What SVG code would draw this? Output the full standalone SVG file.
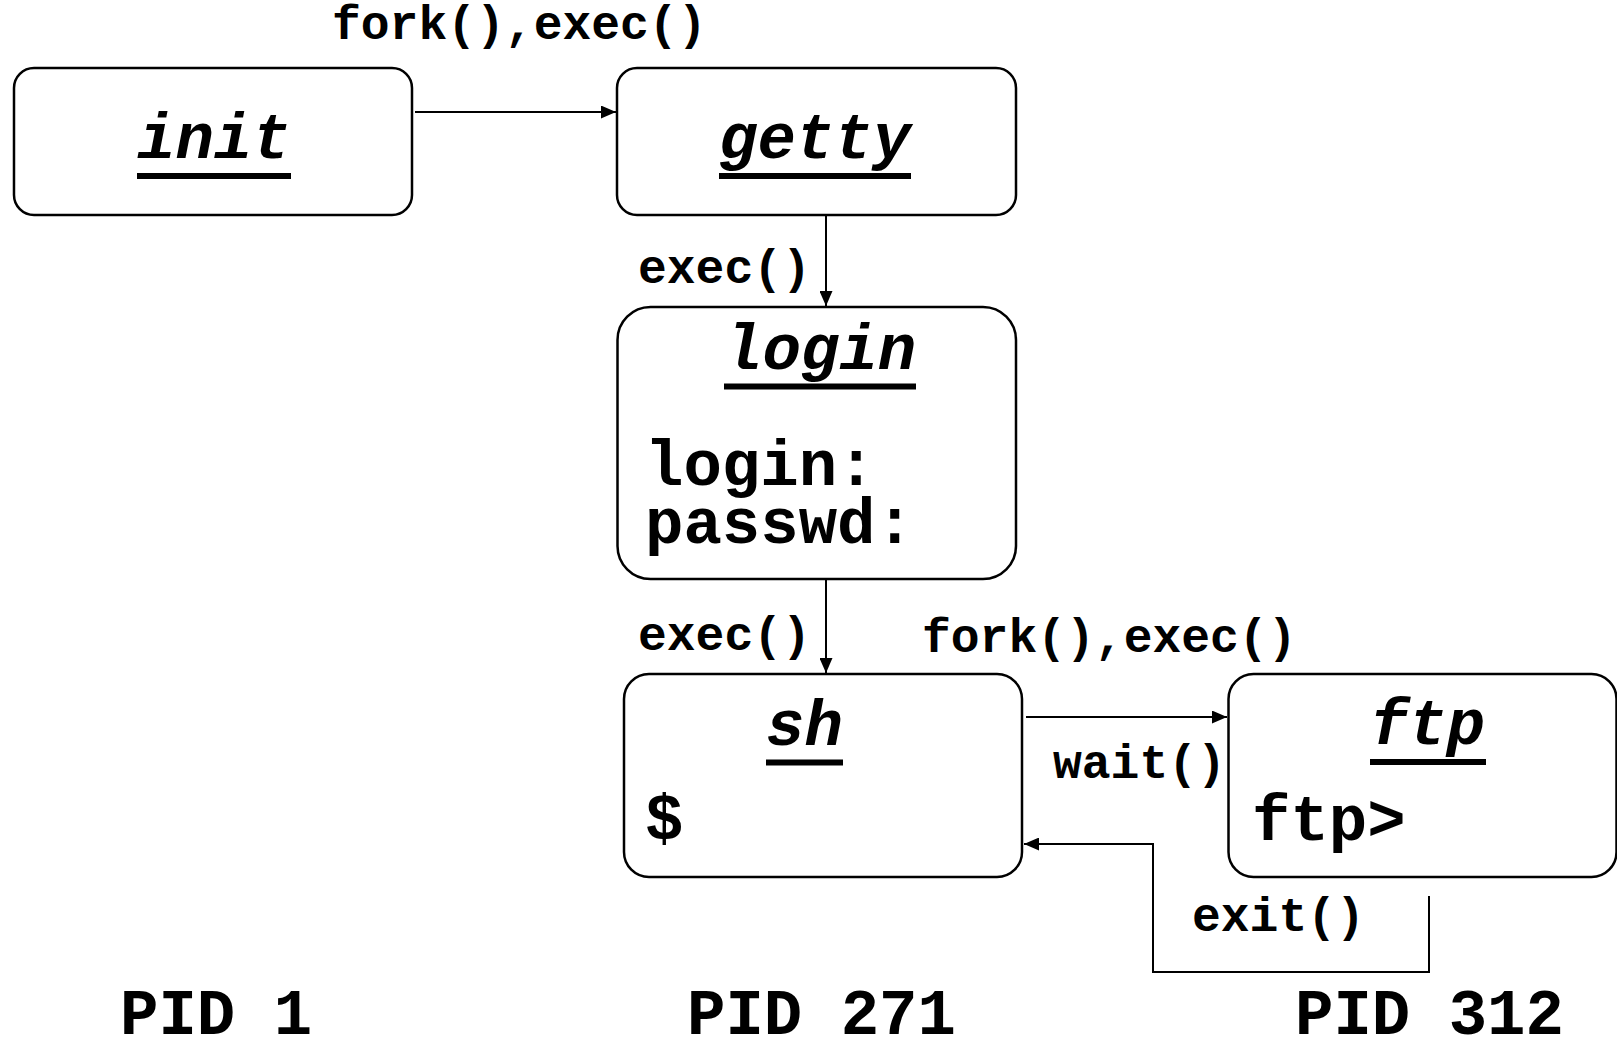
<svg xmlns="http://www.w3.org/2000/svg" width="1617" height="1043" viewBox="0 0 1617 1043">
<defs>
<style>
.box{fill:#fff;stroke:#000;stroke-width:2.5}
.conn{fill:none;stroke:#000;stroke-width:2}
.lbl{font-family:"Liberation Mono","Courier New",monospace;font-weight:bold;font-size:48px;fill:#000}
.big{font-family:"Liberation Mono","Courier New",monospace;font-weight:bold;font-size:64px;fill:#000}
.title{font-family:"Liberation Mono","Courier New",monospace;font-weight:bold;font-style:italic;font-size:64px;fill:#000}
.ul{fill:#000}
</style>
<marker id="arr" viewBox="0 0 15 13" refX="15" refY="6.5" markerWidth="15" markerHeight="13" markerUnits="userSpaceOnUse" orient="auto">
<path d="M0,0 L15,6.5 L0,13 z" fill="#000"/>
</marker>
</defs>
<rect width="1617" height="1043" fill="#fff"/>

<g id="init">
<rect class="box" x="14" y="68" width="398" height="147" rx="20"/>
<text class="title" x="137" y="158">init</text>
<rect class="ul" x="137" y="173" width="154" height="6"/>
</g>

<g id="getty">
<rect class="box" x="617" y="68" width="399" height="147" rx="20"/>
<text class="title" x="719" y="158">getty</text>
<rect class="ul" x="719" y="173" width="192" height="6"/>
</g>

<g id="login">
<rect class="box" x="617.5" y="307" width="398.5" height="272" rx="33"/>
<text class="title" x="724" y="369">login</text>
<rect class="ul" x="724" y="383.5" width="192" height="6"/>
<text class="big" x="645" y="485">login:</text>
<text class="big" x="645" y="543">passwd:</text>
</g>

<g id="sh">
<rect class="box" x="624" y="674" width="398" height="203" rx="25"/>
<text class="title" x="766" y="745">sh</text>
<rect class="ul" x="766" y="759.5" width="77" height="6"/>
<text class="big" x="645" y="839">$</text>
</g>

<g id="ftp">
<rect class="box" x="1228.5" y="674" width="388" height="203" rx="25"/>
<text class="title" x="1370" y="744">ftp</text>
<rect class="ul" x="1370" y="759" width="116" height="6"/>
<text class="big" x="1252" y="840">ftp&gt;</text>
</g>

<g id="connectors">
<line class="conn" x1="415" y1="112" x2="616" y2="112" marker-end="url(#arr)"/>
<line class="conn" x1="826" y1="216" x2="826" y2="306" marker-end="url(#arr)"/>
<line class="conn" x1="826" y1="579" x2="826" y2="673" marker-end="url(#arr)"/>
<line class="conn" x1="1026" y1="717" x2="1227" y2="717" marker-end="url(#arr)"/>
<polyline class="conn" points="1429,896 1429,972 1153,972 1153,844 1024,844" marker-end="url(#arr)"/>
<text class="lbl" x="332" y="39">fork(),exec()</text>
<text class="lbl" x="638" y="283">exec()</text>
<text class="lbl" x="638" y="650">exec()</text>
<text class="lbl" x="922" y="652">fork(),exec()</text>
<text class="lbl" x="1053" y="778">wait()</text>
<text class="lbl" x="1192" y="931">exit()</text>
</g>

<g id="pids">
<text class="big" x="120" y="1034">PID 1</text>
<text class="big" x="687" y="1034">PID 271</text>
<text class="big" x="1295" y="1034">PID 312</text>
</g>
</svg>
